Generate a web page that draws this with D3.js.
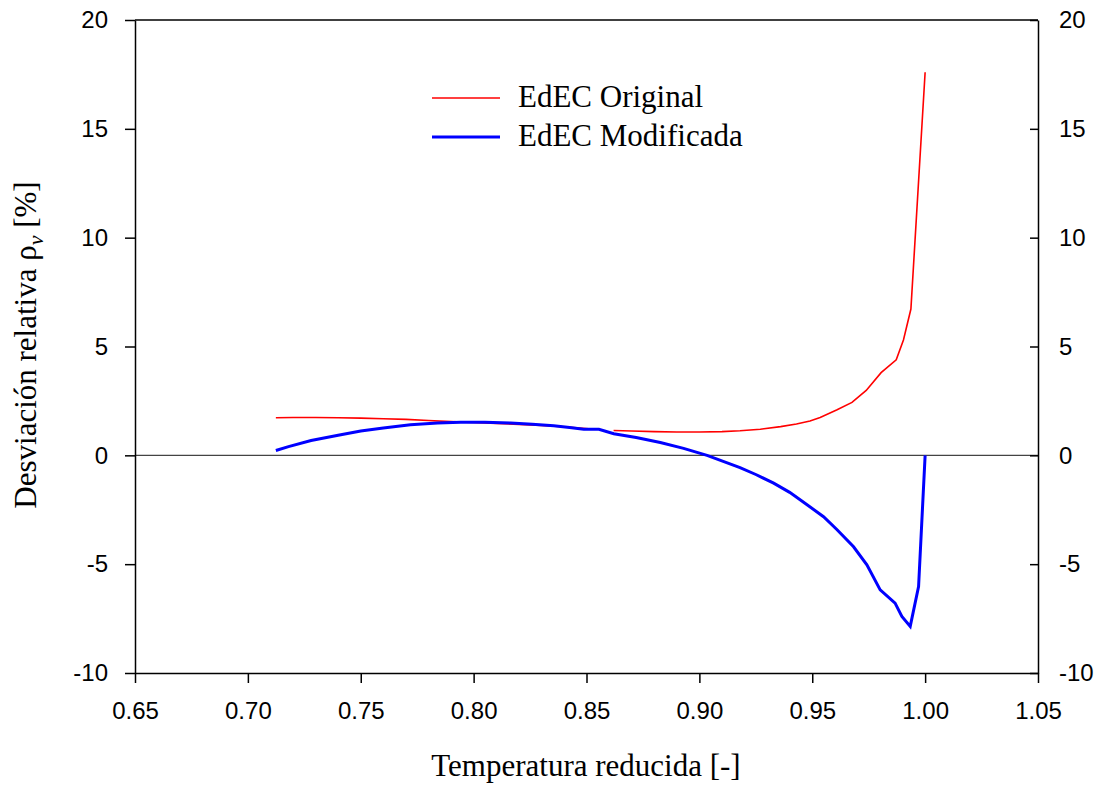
<!DOCTYPE html>
<html>
<head>
<meta charset="utf-8">
<script src="https://cdn.jsdelivr.net/npm/d3@7"></script>
<style>
  html, body { margin: 0; padding: 0; background: #fff; }
  svg { display: block; }
  .tick text { font-family: "Liberation Sans", Arial, sans-serif; font-size: 24px; fill: #000; }
  .ttl { font-family: "Liberation Serif", "Times New Roman", serif; font-size: 31px; fill: #000; }
</style>
</head>
<body>
<svg id="chart" width="1096" height="785"></svg>
<script>
// Reduced temperature (x) and relative density deviation in % (y)
// Original EoS: two pieces, separated by a short gap near Tr = 0.855
const origT = [0.7124, 0.72, 0.73, 0.74, 0.75, 0.76, 0.77, 0.78, 0.79, 0.80, 0.81, 0.82, 0.83, 0.84, 0.851,
               null,
               0.862, 0.87, 0.88, 0.89, 0.90, 0.91, 0.918, 0.927, 0.936, 0.943, 0.949, 0.9535, 0.961, 0.9676,
               0.9739, 0.9805, 0.9872, 0.9904, 0.9937, 1.0];
const origDev = [1.73, 1.74, 1.74, 1.73, 1.71, 1.68, 1.65, 1.60, 1.55, 1.51, 1.47, 1.42, 1.37, 1.31, 1.22,
                 null,
                 1.14, 1.12, 1.09, 1.07, 1.07, 1.09, 1.13, 1.20, 1.32, 1.44, 1.58, 1.74, 2.09, 2.43,
                 2.98, 3.80, 4.39, 5.30, 6.72, 17.6];

// Modified EoS
const modT = [0.7124, 0.718, 0.728, 0.74, 0.75, 0.76, 0.772, 0.784, 0.7942, 0.805, 0.8164, 0.826, 0.8355,
              0.8425, 0.8488, 0.8555, 0.8621, 0.872, 0.8827, 0.893, 0.9034, 0.918, 0.925, 0.9329, 0.94,
              0.9477, 0.955, 0.961, 0.9683, 0.9742, 0.9801, 0.9867, 0.9897, 0.9934, 0.9971, 1.0];
const modDev = [0.22, 0.40, 0.68, 0.92, 1.12, 1.26, 1.40, 1.48, 1.52, 1.52, 1.48, 1.43, 1.36,
                1.28, 1.20, 1.20, 0.99, 0.82, 0.59, 0.32, 0.0, -0.56, -0.88, -1.28, -1.70,
                -2.27, -2.82, -3.42, -4.20, -5.03, -6.18, -6.79, -7.40, -7.86, -6.03, 0.0];

const xTicks = [0.65, 0.70, 0.75, 0.80, 0.85, 0.90, 0.95, 1.00, 1.05];
const yTicks = [-10, -5, 0, 5, 10, 15, 20];

const seriesNames = ["EdEC Original", "EdEC Modificada"];
const seriesColors = ["#ff0000", "#0000ff"];
const seriesWidths = [1.6, 3];

const xTitle = "Temperatura reducida [-]";

const svg = d3.select("#chart");
const plotL = 135, plotR = 1038, plotT = 20, plotB = 673;

const x = d3.scaleLinear().domain([0.65, 1.05]).range([plotL, plotR]);
const y = d3.scaleLinear().domain([-10, 20]).range([plotB, plotT]);

// zero reference line
svg.append("line")
  .attr("x1", plotL).attr("x2", plotR)
  .attr("y1", y(0)).attr("y2", y(0))
  .attr("stroke", "#444").attr("stroke-width", 1.4);

// top frame edge
svg.append("line").attr("x1", plotL).attr("x2", plotR).attr("y1", plotT).attr("y2", plotT)
  .attr("stroke", "#000").attr("stroke-width", 1.5);

// axes (plain hyphen for negative numbers)
const fmtX = d3.format(".2f");
const fmtY = d => String(d);
const gx = svg.append("g").attr("transform", `translate(0,${plotB})`)
  .call(d3.axisBottom(x).tickValues(xTicks).tickFormat(fmtX).tickSize(10).tickSizeOuter(0).tickPadding(19));
const gl = svg.append("g").attr("transform", `translate(${plotL},0)`)
  .call(d3.axisLeft(y).tickValues(yTicks).tickFormat(fmtY).tickSize(10).tickSizeOuter(0).tickPadding(17));
const gr = svg.append("g").attr("transform", `translate(${plotR},0)`)
  .call(d3.axisRight(y).tickValues(yTicks).tickFormat(fmtY).tickSize(-8).tickSizeOuter(0).tickPadding(21));
[gx, gl, gr].forEach(g => {
  g.select(".domain").attr("stroke", "#000").attr("stroke-width", 1.5);
  g.selectAll(".tick line").attr("stroke", "#000").attr("stroke-width", 1.5);
});

// series
const line = d3.line()
  .defined(d => d[0] !== null && d[1] !== null)
  .x(d => x(d[0])).y(d => y(d[1]));

const series = [
  d3.zip(origT, origDev),
  d3.zip(modT, modDev)
];

series.forEach((pts, i) => {
  svg.append("path")
    .datum(pts)
    .attr("fill", "none")
    .attr("stroke", seriesColors[i])
    .attr("stroke-width", seriesWidths[i])
    .attr("stroke-linejoin", "miter")
    .attr("d", line);
});

// legend
const legend = svg.append("g");
seriesNames.forEach((name, i) => {
  const ly = 98 + i * 39;
  legend.append("line")
    .attr("x1", 432).attr("x2", 500).attr("y1", ly).attr("y2", ly)
    .attr("stroke", seriesColors[i]).attr("stroke-width", seriesWidths[i]);
  legend.append("text").attr("class", "ttl")
    .attr("x", 518).attr("y", ly + 9)
    .text(name);
});

// axis titles
svg.append("text").attr("class", "ttl")
  .attr("x", 586).attr("y", 776)
  .attr("text-anchor", "middle")
  .text(xTitle);

const yt = svg.append("text").attr("class", "ttl")
  .attr("transform", `translate(36,345) rotate(-90)`)
  .attr("text-anchor", "middle");
yt.append("tspan").text("Desviación relativa ρ");
yt.append("tspan").attr("font-size", "22px").attr("font-style", "italic").attr("dy", 7).text("ν");
yt.append("tspan").attr("dy", -7).text(" [%]");
</script>
</body>
</html>
